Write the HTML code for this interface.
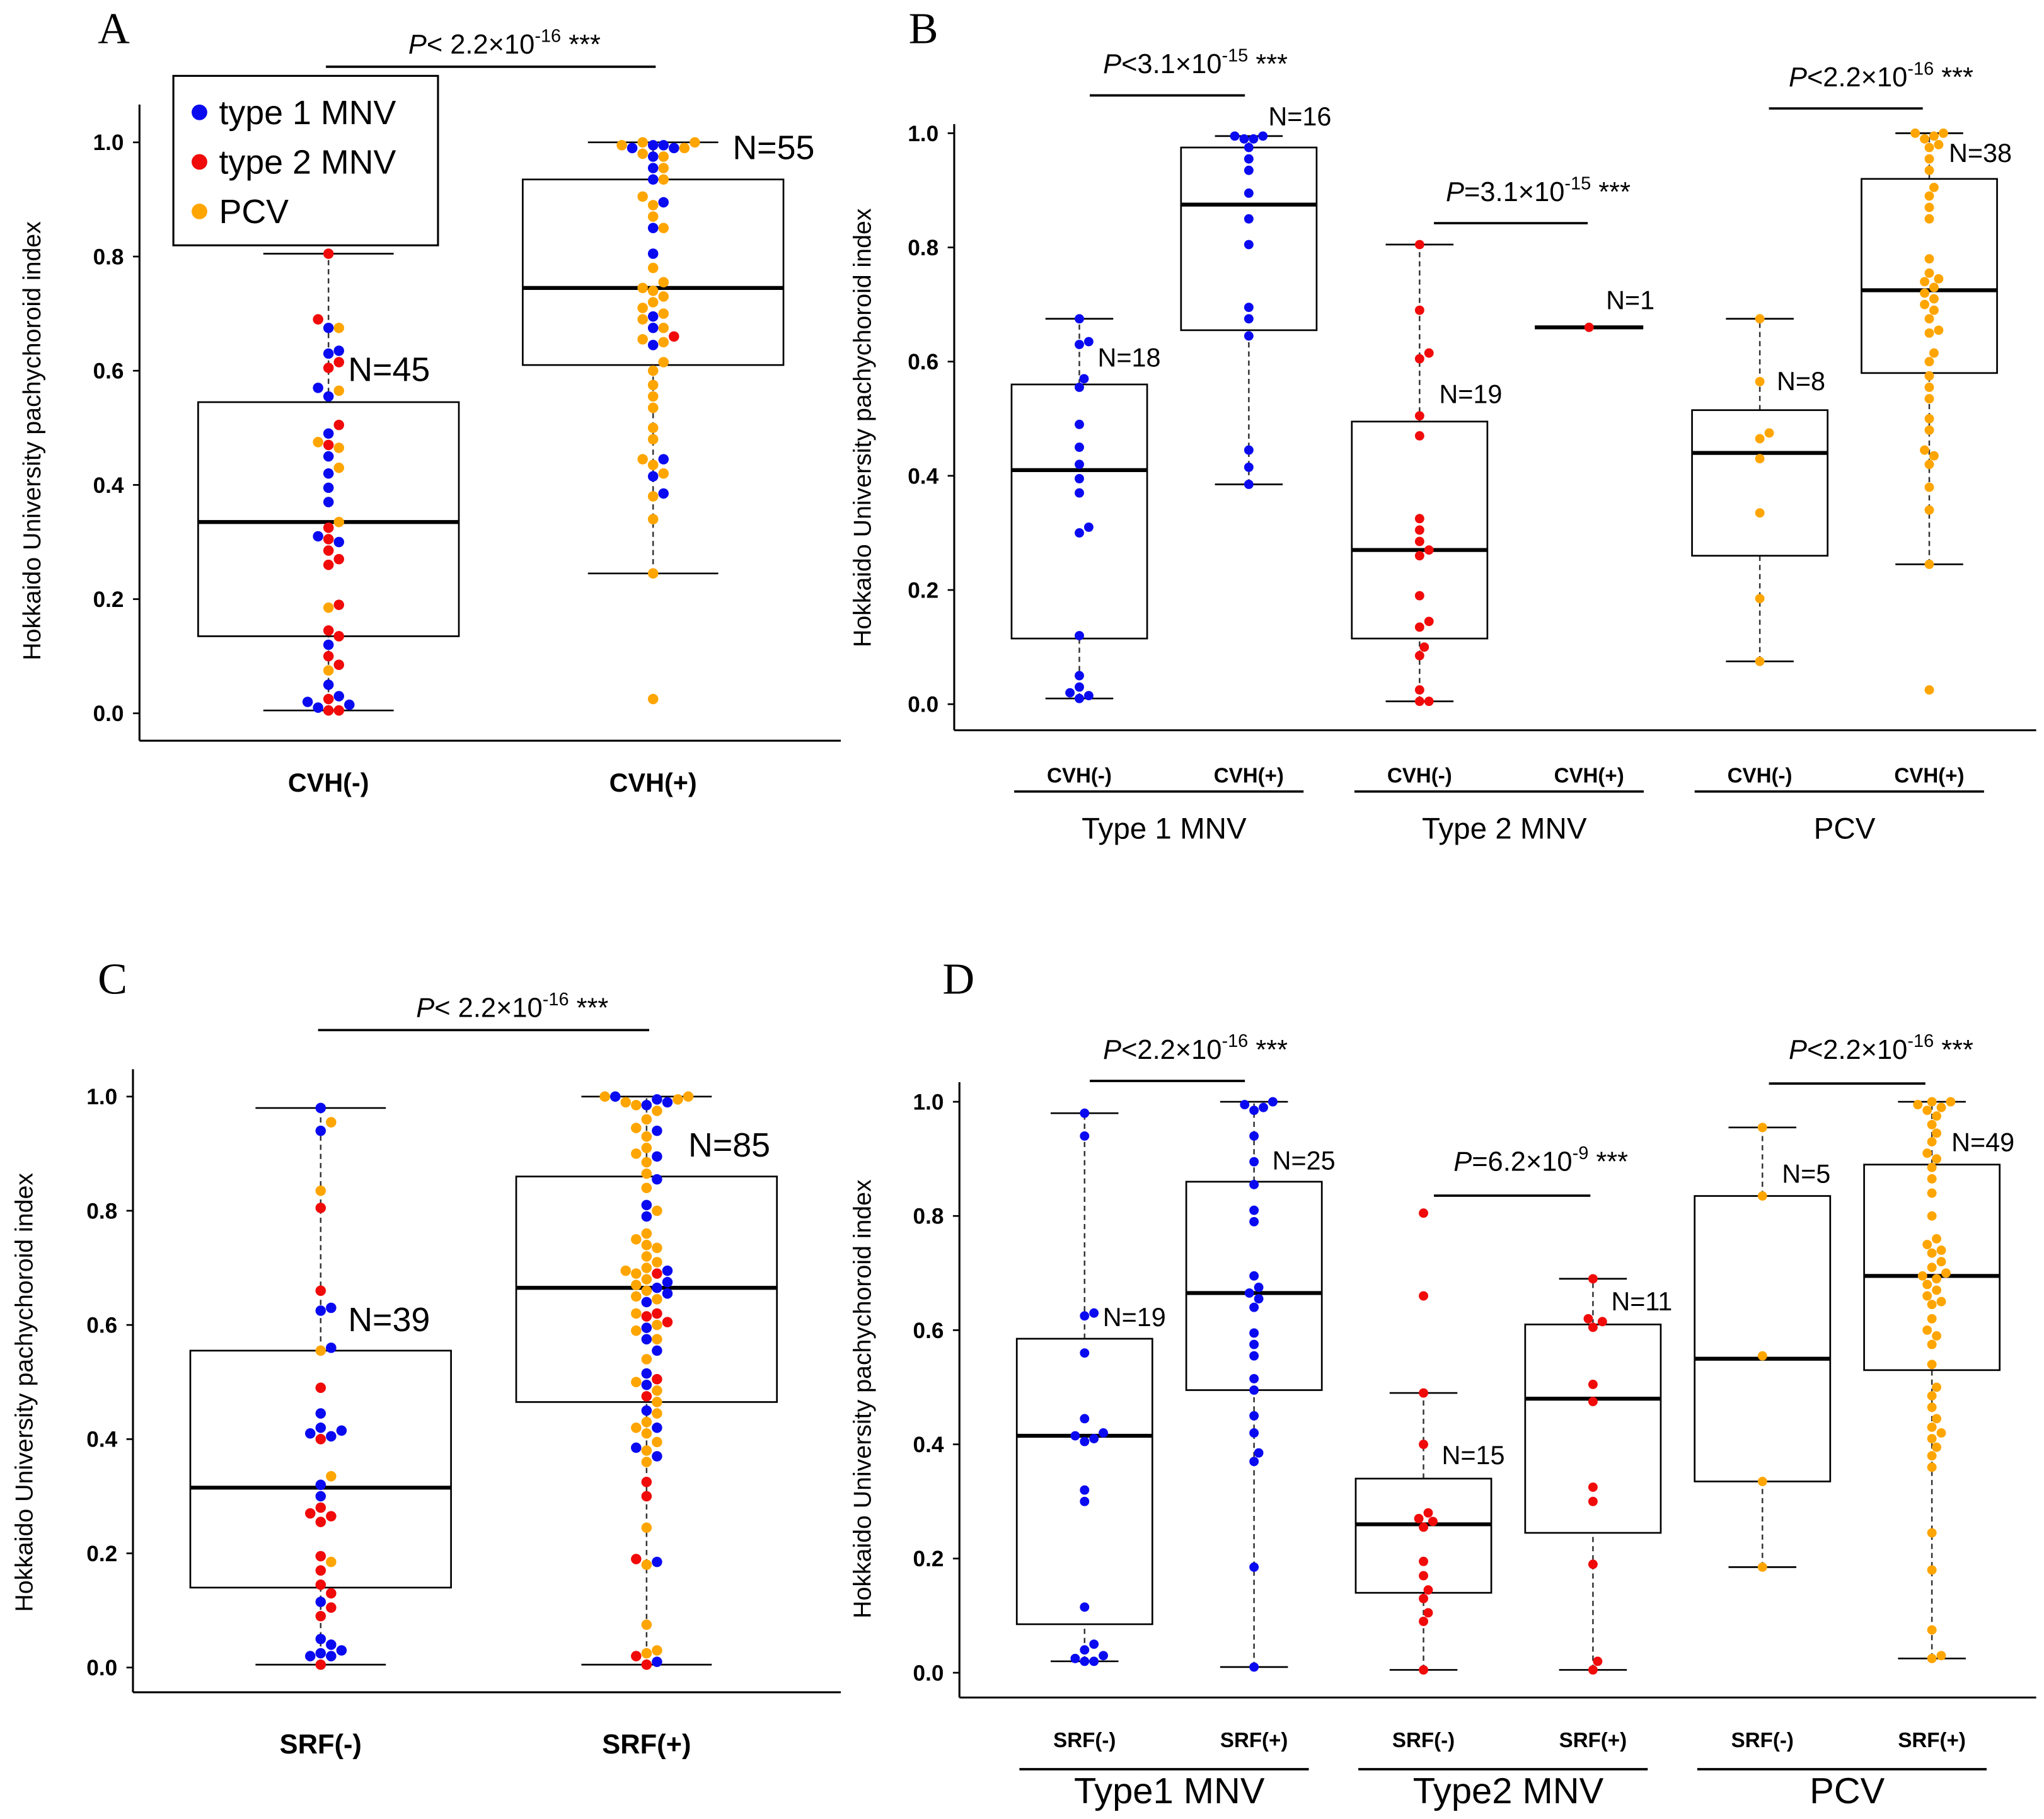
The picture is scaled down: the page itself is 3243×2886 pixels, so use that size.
<!DOCTYPE html>
<html><head><meta charset="utf-8">
<style>
html,body{margin:0;padding:0;background:#fff;}
svg{display:block;}
text{font-family:"Liberation Sans",sans-serif;}
.lt{font-family:"Liberation Serif",serif;font-size:34px;}
.tick{font-size:17px;font-weight:bold;text-anchor:end;}
.ytitle{font-size:19px;text-anchor:middle;}
.ptext{font-size:21px;text-anchor:middle;}
</style></head>
<body>
<svg id="fig" width="3243" height="2886" viewBox="0 0 1568 1395" xmlns="http://www.w3.org/2000/svg">
<rect width="1568" height="1395" fill="#fff"/>
<g id="root"></g>
</svg>
<script>
// ---- data ----
const cvhCats = ["Type 1 MNV CVH(-)","Type 1 MNV CVH(+)","Type 2 MNV CVH(-)","Type 2 MNV CVH(+)","PCV CVH(-)","PCV CVH(+)"];
const cvhColors = ["#0a0af0","#0a0af0","#f00a0a","#f00a0a","#ffa500","#ffa500"];
const cvhT1neg = [.675,.635,.63,.57,.555,.49,.45,.42,.395,.37,.31,.30,.12,.05,.03,.02,.01,.015];
const cvhT1pos = [.995,.995,.99,.99,.975,.955,.935,.895,.85,.805,.695,.675,.645,.445,.415,.385];
const cvhT2neg = [.805,.69,.615,.605,.505,.47,.325,.305,.285,.27,.26,.19,.145,.135,.10,.085,.025,.005,.005];
const cvhT2pos = [.66];
const cvhPneg = [.675,.565,.475,.465,.43,.335,.185,.075];
const cvhPpos = [1.0,1.0,.995,.99,.98,.975,.955,.935,.905,.89,.87,.85,.78,.755,.745,.74,.73,.72,.71,.7,.69,.675,.655,.615,.575,.555,.535,.5,.48,.445,.435,.42,.38,.34,.245,.025,.65,.6];
// box stats: [lowWhisker, q1, median, q3, highWhisker]
const cvhBoxes = [[.01,.115,.41,.56,.675],[.385,.655,.875,.975,.995],[.005,.115,.27,.495,.805],[.66,.66,.66,.66,.66],[.075,.26,.44,.515,.675],[.245,.58,.725,.92,1.0]];
const cvhN = ["N=18","N=16","N=19","N=1","N=8","N=38"];

const srfT1neg = [.98,.94,.63,.625,.56,.445,.42,.415,.41,.405,.32,.30,.115,.05,.04,.03,.025,.02,.02];
const srfT1pos = [1.0,.995,.99,.985,.94,.895,.855,.81,.79,.695,.675,.665,.655,.64,.595,.575,.555,.515,.495,.45,.42,.385,.37,.185,.01];
const srfT2neg = [.805,.66,.49,.40,.28,.27,.265,.255,.195,.17,.145,.13,.105,.09,.005];
const srfT2pos = [.69,.62,.615,.605,.505,.475,.325,.30,.19,.02,.005];
const srfPneg = [.955,.835,.555,.335,.185];
const srfPpos = [1.0,1.0,.995,.99,.985,.975,.96,.945,.93,.91,.9,.885,.865,.84,.8,.76,.75,.74,.735,.72,.71,.7,.695,.68,.66,.645,.62,.6,.59,.575,.54,.5,.485,.465,.445,.43,.42,.41,.395,.38,.36,.245,.18,.075,.03,.025,.69,.67,.65];
const srfBoxes = [[.02,.085,.415,.585,.98],[.01,.495,.665,.86,1.0],[.005,.14,.26,.34,.49],[.005,.245,.48,.61,.69],[.185,.335,.55,.835,.955],[.025,.53,.695,.89,1.0]];
const srfN = ["N=19","N=25","N=15","N=11","N=5","N=49"];

const cvhABoxes = [[.005,.135,.335,.545,.805],[.245,.61,.745,.935,1.0]];
const srfCBoxes = [[.005,.14,.315,.555,.98],[.005,.465,.665,.86,1.0]];
const yTicks = [0,0.2,0.4,0.6,0.8,1.0];
const yTickLabels = ["0.0","0.2","0.4","0.6","0.8","1.0"];

const NS="http://www.w3.org/2000/svg";
const root=document.getElementById('root');
function mk(tag,attrs,parent){const e=document.createElementNS(NS,tag);for(const k in attrs)e.setAttribute(k,attrs[k]);(parent||root).appendChild(e);return e;}
function txt(s,attrs,parent){const e=mk('text',attrs,parent);e.textContent=s;return e;}

function swarm(vals,cx,yf,r){
  const placed=[];const sorted=vals.slice().sort((a,b)=>a-b);
  const out=[];
  for(const v of sorted){
    const y=yf(v);let best=null;
    for(let k=0;k<40;k++){
      const off=(k%2?1:-1)*Math.ceil(k/2)*r*1.0;
      const x=cx+off;
      if(placed.every(p=>(p[0]-x)**2+(p[1]-y)**2>=(2*r)**2*0.95)){best=x;break;}
    }
    if(best===null)best=cx;
    placed.push([best,y]);out.push([best,y,v]);
  }
  return out;
}

function axes(g,x0,x1,yTop,yBot,y0,y1,name){
  const yf=v=>y0+(y1-y0)*v;
  const ax=mk('line',{x1:x0,y1:yTop,x2:x0,y2:yBot,stroke:'#000','stroke-width':1.5},g);
  
  
  const bx=mk('line',{x1:x0,y1:yBot,x2:x1,y2:yBot,stroke:'#000','stroke-width':1.5},g);
  
  
  yTicks.forEach((t,i)=>{
    const tk=mk('line',{x1:x0-5,x2:x0,y1:yf(t),y2:yf(t),stroke:'#000','stroke-width':1.3},g);
    
    
    const tl=txt(yTickLabels[i],{x:x0-12,y:yf(t)+6,class:'tick'},g);
    
    
  });
  return yf;
}

function box(g,cx,hw,st,yf,name){
  const dash={stroke:'#333','stroke-width':1.2,'stroke-dasharray':'4,3'};
  if(st[1]===st[3]){
    const m=mk('line',{x1:cx-hw*0.8,x2:cx+hw*0.8,y1:yf(st[2]),y2:yf(st[2]),stroke:'#000','stroke-width':3},g);
    
    
    return;
  }
  const w1=mk('line',Object.assign({x1:cx,x2:cx,y1:yf(st[0]),y2:yf(st[1])},dash),g);
  
  
  const w2=mk('line',Object.assign({x1:cx,x2:cx,y1:yf(st[3]),y2:yf(st[4])},dash),g);
  
  
  [st[0],st[4]].forEach(v=>{
    const c=mk('line',{x1:cx-hw/2,x2:cx+hw/2,y1:yf(v),y2:yf(v),stroke:'#000','stroke-width':1.3},g);
    
    
  });
  const r=mk('rect',{x:cx-hw,y:yf(st[3]),width:2*hw,height:yf(st[1])-yf(st[3]),fill:'none',stroke:'#000','stroke-width':1.3},g);
  
  
  const m=mk('line',{x1:cx-hw,x2:cx+hw,y1:yf(st[2]),y2:yf(st[2]),stroke:'#000','stroke-width':3},g);
  
  
}

function dots(g,groups,cx,yf,r,name){
  // groups: [[vals,color],...] combined swarm
  const all=[];groups.forEach(([vals,col])=>vals.forEach(v=>all.push([v,col])));
  const vals=all.map(a=>a[0]);
  const pos=swarm(vals,cx,yf,r);
  const used=new Array(all.length).fill(false);
  pos.forEach(([x,y,v])=>{
    let idx=all.findIndex((a,i)=>!used[i]&&a[0]===v);used[idx]=true;
    const c=mk('circle',{cx:x,cy:y,r:r,fill:all[idx][1]},g);
    
    
  });
}

function ptext(g,x,y,pre,num,exp,name){
  const t=txt('',{x:x,y:y,class:'ptext'},g);
  
  
  const a=mk('tspan',{'font-style':'italic'},t);a.textContent='P';
  const b=mk('tspan',{},t);b.textContent=pre+num+'×10';
  const c=mk('tspan',{'font-size':14,dy:-9},t);c.textContent=exp;
  const d=mk('tspan',{dy:9},t);d.textContent=' ***';
}
function hline(g,x1,x2,y,name){
  const l=mk('line',{x1:x1,x2:x2,y1:y,y2:y,stroke:'#000','stroke-width':1.8},g);
  
  
}

const groupsCVH=[cvhT1neg,cvhT1pos,cvhT2neg,cvhT2pos,cvhPneg,cvhPpos];
const groupsSRF=[srfT1neg,srfT1pos,srfT2neg,srfT2pos,srfPneg,srfPpos];

// ---------------- Panel A ----------------
(function(){
  const g=mk('g',{});
  const l=txt('A',{x:75,y:33,class:'lt'},g);
  const yf=axes(g,107,645,80,568,547,109,'panel-a');
  const yt=txt('Hokkaido University pachychoroid index',{x:0,y:0,class:'ytitle',transform:'translate(31,338) rotate(-90)'},g);
  
  const xs=[252,501];const labs=['CVH(-)','CVH(+)'];
  xs.forEach((cx,i)=>{
    box(g,cx,100,cvhABoxes[i],yf,'panel-a-'+labs[i]);
    const cl=txt(labs[i],{x:cx,y:607,'font-size':20,'font-weight':'bold','text-anchor':'middle'},g);
    
  });
  dots(g,[[cvhT1neg,cvhColors[0]],[cvhT2neg,cvhColors[2]],[cvhPneg,cvhColors[4]]],252,yf,4,'panel-a-cvh-neg');
  dots(g,[[cvhT1pos,cvhColors[1]],[cvhT2pos,cvhColors[3]],[cvhPpos,cvhColors[5]]],501,yf,4,'panel-a-cvh-pos');
  const n1=txt('N=45',{x:267,y:292,'font-size':26},g);
  const n2=txt('N=55',{x:562,y:122,'font-size':26},g);
  hline(g,250,503,51,'panel-a-significance-line');
  ptext(g,387,41,'< 2.2','','-16','panel-a-p-value');
  // legend
  const lg=mk('g',{},g);
  const lr=mk('rect',{x:133,y:58,width:203,height:130,fill:'#fff',stroke:'#000','stroke-width':1.5},lg);
  
  [['type 1 MNV','#0a0af0'],['type 2 MNV','#f00a0a'],['PCV','#ffa500']].forEach((e,i)=>{
    const y=86+i*38;
    const c=mk('circle',{cx:153,cy:y,r:6,fill:e[1]},lg);
    
    const t=txt(e[0],{x:168,y:y+9,'font-size':26},lg);
    
  });
})();

// ------------- Panels B and D ----------------
function sixPanel(opts){
  const g=mk('g',{});
  const l=txt(opts.letter,{x:opts.lx,y:opts.ly,class:'lt'},g);
  const yf=axes(g,opts.x0,1562,opts.yTop,opts.yBot,opts.y0,opts.y1,opts.name);
  const yt=txt('Hokkaido University pachychoroid index',{x:0,y:0,class:'ytitle',transform:'translate('+opts.ytx+','+opts.yty+') rotate(-90)'},g);
  
  opts.xs.forEach((cx,i)=>{
    box(g,cx,52,opts.boxes[i],yf,opts.name+'-group-'+(i+1));
    dots(g,[[opts.groups[i],cvhColors[i]]],cx,yf,3.6,opts.name+'-group-'+(i+1));
    const cl=txt(opts.sub[i%2],{x:cx,y:opts.subY,'font-size':16,'font-weight':'bold','text-anchor':'middle'},g);
    
    const n=txt(opts.N[i],{x:opts.nPos[i][0],y:opts.nPos[i][1],'font-size':20},g);
    
  });
  opts.groupLabels.forEach((gl,i)=>{
    const a=opts.xs[2*i],b=opts.xs[2*i+1];
    hline(g,a-50,b+42,opts.glLineY,opts.name+'-group-bracket');
    const t=txt(gl,{x:(a+b)/2,y:opts.glY,'font-size':opts.glSize,'text-anchor':'middle'},g);
    
  });
  opts.pv.forEach(p=>{hline(g,p[0],p[1],p[2],opts.name+'-significance-line');ptext(g,p[3],p[4],p[5],'',p[6],opts.name+'-p-value');});
}
sixPanel({name:'panel-b',letter:'B',lx:697,ly:33,x0:732,yTop:95,yBot:560,y0:540,y1:102,ytx:668,yty:328,
  xs:[828,958,1089,1219,1350,1480],boxes:cvhBoxes,groups:groupsCVH,sub:['CVH(-)','CVH(+)'],subY:600,N:cvhN,
  nPos:[[842,281],[973,96],[1104,309],[1232,237],[1363,299],[1495,124]],
  groupLabels:['Type 1 MNV','Type 2 MNV','PCV'],glLineY:607,glY:643,glSize:23,
  pv:[[836,955,73,917,56,'<3.1','-15'],[1100,1218,171,1180,154,'=3.1','-15'],[1357,1475,83,1443,66,'<2.2','-16']]});
sixPanel({name:'panel-d',letter:'D',lx:723,ly:762,x0:736,yTop:830,yBot:1302,y0:1283,y1:845,ytx:668,yty:1073,
  xs:[832,962,1092,1222,1352,1482],boxes:srfBoxes,groups:groupsSRF,sub:['SRF(-)','SRF(+)'],subY:1340,N:srfN,
  nPos:[[846,1017],[976,897],[1106,1123],[1236,1005],[1367,907],[1497,883]],
  groupLabels:['Type1 MNV','Type2 MNV','PCV'],glLineY:1357,glY:1383,glSize:28,
  pv:[[836,955,829,917,812,'<2.2','-16'],[1100,1220,917,1182,898,'=6.2','-9'],[1357,1477,831,1443,812,'<2.2','-16']]});

// ---------------- Panel C ----------------
(function(){
  const g=mk('g',{});
  const l=txt('C',{x:75,y:762,class:'lt'},g);
  const yf=axes(g,102,645,820,1298,1279,841,'panel-c');
  const yt=txt('Hokkaido University pachychoroid index',{x:0,y:0,class:'ytitle',transform:'translate(25,1068) rotate(-90)'},g);
  
  const xs=[246,496];const labs=['SRF(-)','SRF(+)'];
  xs.forEach((cx,i)=>{
    box(g,cx,100,srfCBoxes[i],yf,'panel-c-'+labs[i]);
    const cl=txt(labs[i],{x:cx,y:1345,'font-size':21,'font-weight':'bold','text-anchor':'middle'},g);
    
  });
  dots(g,[[srfT1neg,cvhColors[0]],[srfT2neg,cvhColors[2]],[srfPneg,cvhColors[4]]],246,yf,4,'panel-c-srf-neg');
  dots(g,[[srfT1pos,cvhColors[1]],[srfT2pos,cvhColors[3]],[srfPpos,cvhColors[5]]],496,yf,4,'panel-c-srf-pos');
  const n1=txt('N=39',{x:267,y:1021,'font-size':26},g);
  const n2=txt('N=85',{x:528,y:887,'font-size':26},g);
  hline(g,244,498,790,'panel-c-significance-line');
  ptext(g,393,780,'< 2.2','','-16','panel-c-p-value');
})();
</script>
</body></html>
